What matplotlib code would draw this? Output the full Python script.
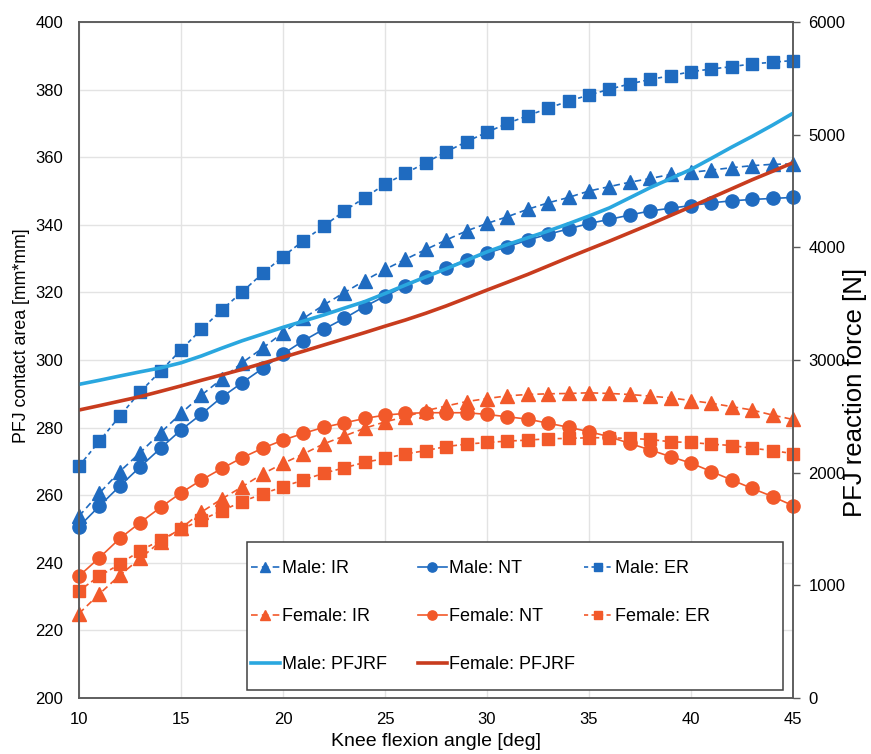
import matplotlib.pyplot as plt
from matplotlib.patches import Rectangle

plt.rcParams['font.family'] = ['Liberation Sans', 'DejaVu Sans']

# knee flexion angle [deg]
angle = list(range(10, 46))

# contact area [mm*mm]
male_ir = [253.8, 260.6, 267.0, 272.6, 278.5, 284.2, 289.6, 294.4, 299.2, 303.5,
           308.1, 312.3, 316.3, 319.9, 323.5, 326.8, 329.8, 332.7, 335.5, 338.2,
           340.4, 342.4, 344.6, 346.5, 348.1, 350.0, 351.3, 352.6, 353.7, 354.9,
           355.5, 356.2, 356.9, 357.5, 357.9, 358.0]
male_nt = [250.7, 256.8, 262.7, 268.4, 273.9, 279.3, 284.0, 289.0, 293.3, 297.5,
           301.8, 305.7, 309.1, 312.3, 315.8, 318.9, 321.9, 324.6, 327.3, 329.6,
           331.6, 333.5, 335.5, 337.2, 338.8, 340.4, 341.6, 342.9, 344.1, 344.9,
           345.7, 346.5, 347.1, 347.5, 347.8, 348.1]
male_er = [268.6, 276.0, 283.4, 290.6, 296.7, 303.0, 309.1, 314.8, 320.2, 325.6,
           330.6, 335.3, 339.6, 344.1, 348.0, 352.0, 355.2, 358.4, 361.6, 364.6,
           367.4, 370.0, 372.3, 374.5, 376.6, 378.4, 380.1, 381.7, 383.0, 384.1,
           385.3, 386.1, 386.8, 387.6, 388.1, 388.6]
female_ir = [225.0, 230.8, 236.3, 241.3, 246.3, 250.2, 255.0, 258.9, 262.5, 266.3,
             269.4, 272.2, 275.2, 277.5, 279.8, 281.7, 283.2, 285.0, 286.4, 287.7,
             288.6, 289.4, 289.8, 290.0, 290.1, 290.3, 290.1, 289.8, 289.3, 288.8,
             288.0, 287.2, 286.2, 285.2, 283.7, 282.4]
female_nt = [236.1, 241.5, 247.2, 251.9, 256.4, 260.7, 264.5, 267.9, 271.1, 273.9,
             276.3, 278.3, 280.1, 281.4, 282.7, 283.7, 284.2, 284.4, 284.4, 284.4,
             283.9, 283.2, 282.5, 281.3, 280.1, 278.8, 277.3, 275.3, 273.4, 271.4,
             269.5, 267.0, 264.5, 262.0, 259.6, 256.9]
female_er = [231.7, 236.1, 239.6, 243.6, 246.7, 249.9, 252.7, 255.4, 258.1, 260.4,
             262.5, 264.5, 266.5, 268.1, 269.7, 270.9, 272.2, 273.2, 274.4, 275.1,
             275.6, 276.0, 276.3, 276.7, 276.8, 277.0, 277.0, 276.8, 276.5, 275.8,
             275.6, 275.1, 274.7, 273.9, 273.2, 272.3]

# reaction force [N]
male_pfjrf = [2784, 2820, 2858, 2895, 2930, 2975, 3036, 3105, 3171, 3230,
              3290, 3345, 3400, 3460, 3518, 3590, 3665, 3738, 3810, 3885,
              3960, 4025, 4085, 4145, 4210, 4278, 4350, 4440, 4530, 4610,
              4692, 4790, 4890, 4985, 5085, 5190]
female_pfjrf = [2556, 2595, 2635, 2675, 2722, 2770, 2820, 2868, 2917, 2970,
                3024, 3078, 3133, 3188, 3243, 3300, 3355, 3415, 3480, 3550,
                3621, 3690, 3760, 3835, 3910, 3983, 4055, 4130, 4205, 4283,
                4361, 4440, 4520, 4600, 4675, 4751]

blue = "#1f6bc0"
orange = "#f2592a"
light_blue = "#2aa7df"
dark_red = "#c83c1e"
spine_col = "#5a5a5a"

W, H = 871, 754
fig = plt.figure(figsize=(W / 100, H / 100), dpi=100)
ax = fig.add_axes([79/W, 1-698/H, (793-79)/W, (698-22)/H])
ax2 = ax.twinx()

ms = 9.5
dash_ir = (0, (4, 2.5))
dash_er = (0, (2.5, 2))
h_mir, = ax.plot(angle, male_ir, color=blue, ls=dash_ir, lw=1.2, marker="^", ms=ms, clip_on=False, label="Male: IR")
h_mnt, = ax.plot(angle, male_nt, color=blue, ls="-", lw=1.2, marker="o", ms=ms, clip_on=False, label="Male: NT")
h_mer, = ax.plot(angle, male_er, color=blue, ls=dash_er, lw=1.2, marker="s", ms=ms - 0.5, clip_on=False, label="Male: ER")
h_fir, = ax.plot(angle, female_ir, color=orange, ls=dash_ir, lw=1.2, marker="^", ms=ms, clip_on=False, label="Female: IR")
h_fnt, = ax.plot(angle, female_nt, color=orange, ls="-", lw=1.2, marker="o", ms=ms, clip_on=False, label="Female: NT")
h_fer, = ax.plot(angle, female_er, color=orange, ls=dash_er, lw=1.2, marker="s", ms=ms - 0.5, clip_on=False, label="Female: ER")

h_mrf, = ax2.plot(angle, male_pfjrf, color=light_blue, lw=2.6, label="Male: PFJRF")
h_frf, = ax2.plot(angle, female_pfjrf, color=dark_red, lw=2.6, label="Female: PFJRF")

ax.set_xlim(10, 45)
ax.set_ylim(200, 400)
ax2.set_ylim(0, 6000)
ax.set_xticks(range(10, 46, 5))
ax.set_yticks(range(200, 401, 20))
ax2.set_yticks(range(0, 6001, 1000))
ax.grid(True, color="#e3e3e3", lw=1)
ax.set_axisbelow(True)

ax.tick_params(axis="y", length=0, labelsize=12, pad=11.5)
ax.tick_params(axis="x", length=0, labelsize=12, pad=10)
ax2.tick_params(axis="y", length=5, width=1, color=spine_col, labelsize=12, pad=6)

for a in (ax, ax2):
    for s in a.spines.values():
        s.set_color(spine_col)
        s.set_linewidth(1.1)

ax.set_xlabel("Knee flexion angle [deg]", fontsize=14)
ax.set_ylabel("PFJ contact area [mm*mm]", fontsize=12.8)
ax2.set_ylabel("PFJ reaction force [N]", fontsize=18.5, rotation=90)
ax.xaxis.set_label_coords(0.5, (698 - 742) / 676, transform=ax.transAxes)
ax.yaxis.set_label_coords((22 - 79) / 714, (698 - 336) / 676)
ax2.yaxis.set_label_coords((855 - 79) / 714, (698 - 392) / 676)
ax.xaxis.label.set_va("center")
ax.yaxis.label.set_va("center")
ax2.yaxis.label.set_va("center")

# legend: white frame plus three columns
frame = Rectangle((247 / W, 1 - 690 / H), (783 - 247) / W, (690 - 542) / H,
                  transform=fig.transFigure, facecolor="white",
                  edgecolor="#404040", lw=1.1, zorder=3)
fig.patches.append(frame)

columns = [[h_mir, h_fir, h_mrf], [h_mnt, h_fnt, h_frf], [h_mer, h_fer]]
col_x = [251, 418, 584]
for x0, hs in zip(col_x, columns):
    leg = fig.legend(handles=hs, loc="upper left",
                     bbox_to_anchor=(x0 / W, 1 - 560 / H), fontsize=13,
                     frameon=False, borderpad=0, borderaxespad=0,
                     handlelength=1.6, handletextpad=0.1, labelspacing=1.72,
                     markerscale=0.7)
    leg.set_zorder(4)

fig.savefig("out.png", dpi=100)
